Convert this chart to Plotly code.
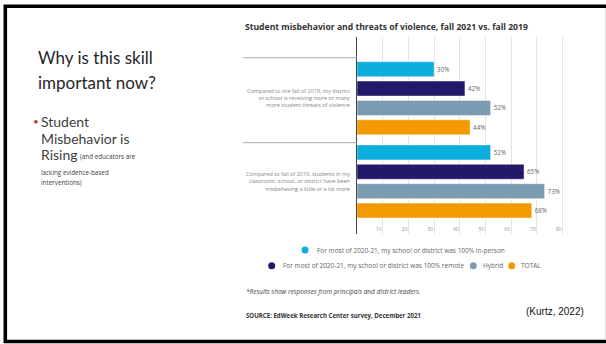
import plotly.graph_objects as go

W, H = 606, 344
def X(px): return px / W
def Y(py): return 1 - py / H

CATEGORIES = [
    "Compared to the fall of 2019, my district<br>or school is receiving more or many<br>more student threats of violence",
    "Compared to fall of 2019, students in my<br>classroom, school, or district have been<br>misbehaving a little or a lot more",
]
SERIES = [
    "For most of 2020-21, my school or district was 100% in-person",
    "For most of 2020-21, my school or district was 100% remote",
    "Hybrid",
    "TOTAL",
]
IN_PERSON = [30, 52]
REMOTE = [42, 65]
HYBRID = [52, 73]
TOTAL = [44, 68]
VALUES = [IN_PERSON, REMOTE, HYBRID, TOTAL]
COLORS = ["#0BAEDD", "#22196B", "#7A9BB0", "#F39A00"]
X_TICKS = [0, 10, 20, 30, 40, 50, 60, 70, 80]

fig = go.Figure()
for name, vals, col in zip(SERIES, VALUES, COLORS):
    fig.add_trace(go.Bar(
        y=CATEGORIES, x=vals, name=name, orientation="h",
        marker=dict(color=col, line=dict(color="rgba(255,255,255,0.45)", width=1)),
        text=[f"{v}%" for v in vals], textposition="outside",
        textfont=dict(family="Open Sans", size=6.2, color="#666666"),
        cliponaxis=False, showlegend=False,
    ))

fig.update_layout(
    width=W, height=H, margin=dict(l=0, r=0, t=0, b=0),
    paper_bgcolor="white", plot_bgcolor="white",
    barmode="group", bargap=0.068, bargroupgap=0.227,
    showlegend=False,
    xaxis=dict(
        domain=[X(357), X(357 + 81 * 2.57)], range=[0, 81],
        tickvals=X_TICKS, showgrid=True, gridcolor="#E4E4E4", gridwidth=1,
        zeroline=False, showline=False, ticks="",
        ticklabelposition="inside", ticklabelshift=-4, ticklabelstandoff=-1,
        tickfont=dict(family="Open Sans", size=5.2, color="#999999"),
    ),
    yaxis=dict(
        domain=[Y(234), Y(37)], range=[1.6307, -0.7357],
        showgrid=False, zeroline=False, showline=True, linecolor="#444444", linewidth=1,
        ticks="", ticklabelstandoff=5,
        tickfont=dict(family="Open Sans", size=5.5, color="#858585"),
    ),
)

shapes = []
# slide border
shapes.append(dict(type="rect", xref="paper", yref="paper", x0=X(5.3), x1=X(612), y0=Y(341.5), y1=Y(6.3),
                   line=dict(color="black", width=3.6), fillcolor="rgba(0,0,0,0)", layer="above"))
shapes.append(dict(type="line", xref="paper", yref="paper", x0=X(605.5), x1=X(605.5), y0=Y(340), y1=Y(8),
                   line=dict(color="#DDDDDD", width=1)))
# category separators
for yy in [-0.487, 0.534]:
    shapes.append(dict(type="line", xref="paper", yref="y", x0=X(243), x1=X(357), y0=yy, y1=yy,
                       line=dict(color="#AAAAAA", width=1)))

annotations = []
def txt(text, x, y, size, color, family="Open Sans", weight=None, style=None, anchor="left"):
    f = dict(family=family, size=size, color=color)
    if weight: f["weight"] = weight
    if style: f["style"] = style
    annotations.append(dict(text=text, x=X(x), y=Y(y), xref="paper", yref="paper",
                            xanchor=anchor, yanchor="middle", showarrow=False, font=f, align="left"))

# chart title
txt("Student misbehavior and threats of violence, fall 2021 vs. fall 2019", 243, 27, 8.6, "#333333", weight="bold")

# manual legend
LEG_POS = [(305, 315, 250), (271.7, 280.7, 265.7), (473.3, 480.7, 265.7), (511.7, 519.3, 265.7)]
for name, col, (dx, tx, cy) in zip(SERIES, COLORS, LEG_POS):
    shapes.append(dict(type="circle", xref="paper", yref="paper", xsizemode="pixel", ysizemode="pixel",
                       xanchor=X(dx), yanchor=Y(cy), x0=-3.5, x1=3.5, y0=-3.5, y1=3.5,
                       fillcolor=col, line=dict(width=0)))
    txt(name, tx, cy, 6.5, "#666666")

# footnotes
txt("*Results show responses from principals and district leaders.", 244, 291, 6.5, "#444444", style="italic")
txt("SOURCE: EdWeek Research Center survey, December 2021", 244, 315, 6.1, "#333333", weight="bold")
txt("(Kurtz, 2022)", 524, 311.5, 10, "#111111", family="Liberation Sans")

# left slide text
txt("Why is this skill", 36, 57.5, 17, "#262626", family="Lato")
txt("important now?", 36, 82.5, 17, "#262626", family="Lato")
txt("•", 31, 121, 10, "#B04A2E", family="Lato")
txt("Student", 39, 121.5, 14, "#404040", family="Lato")
txt("Misbehavior is", 39, 138, 14, "#404040", family="Lato")
txt("Rising", 39, 154.5, 14, "#404040", family="Lato")
txt("(and educators are", 78, 157, 6.3, "#404040")
txt("lacking evidence-based", 39, 172.5, 6.3, "#404040")
txt("interventions)", 39, 183, 6.3, "#404040")

fig.update_layout(shapes=shapes, annotations=annotations)
fig.write_html("out.html")
